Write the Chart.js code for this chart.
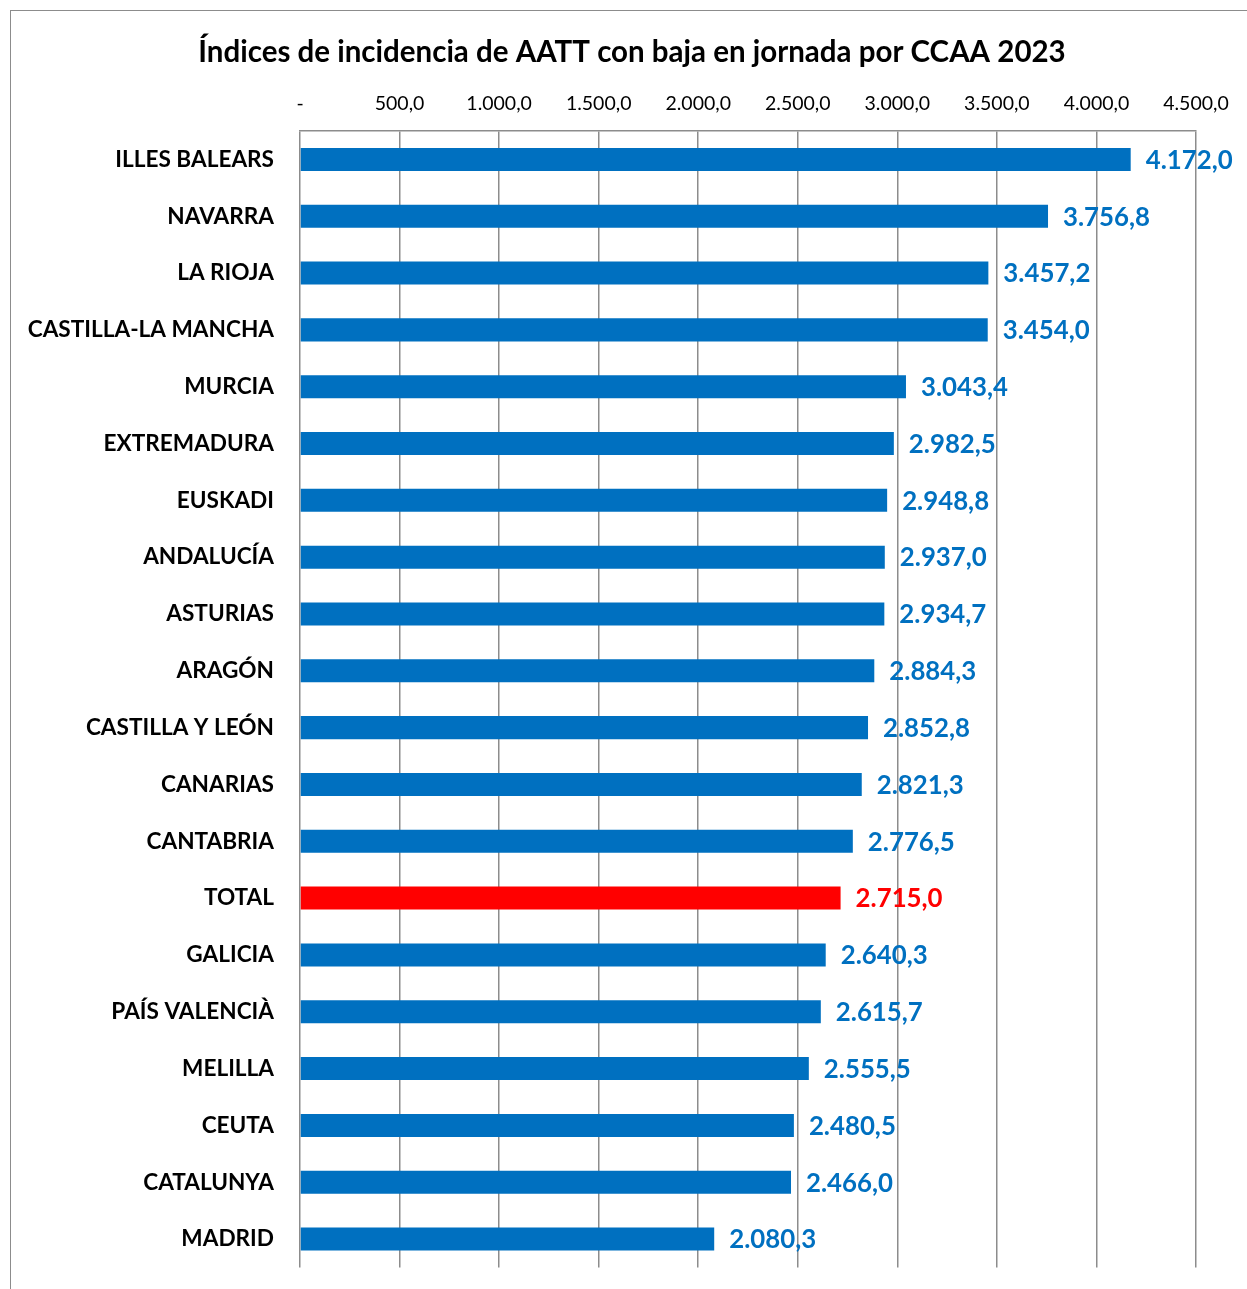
<!DOCTYPE html>
<html>
<head>
<meta charset="utf-8">
<script src="https://cdn.jsdelivr.net/npm/chart.js@4.4.1/dist/chart.umd.min.js"></script>
<style>
html,body{margin:0;padding:0;background:#fff;overflow:hidden;}
#wrap{position:relative;width:1247px;height:1289px;overflow:hidden;}
#frame{position:absolute;left:10px;top:10px;width:1300px;height:1400px;border-left:1.5px solid #8c8c8c;border-top:1.5px solid #8c8c8c;pointer-events:none;}
canvas{position:absolute;left:0;top:0;}
</style>
</head>
<body>
<div id="wrap"><canvas id="c" width="1247" height="1307"></canvas><div id="frame"></div></div>
<script>
const categories = ["ILLES BALEARS","NAVARRA","LA RIOJA","CASTILLA-LA MANCHA","MURCIA","EXTREMADURA","EUSKADI","ANDALUCÍA","ASTURIAS","ARAGÓN","CASTILLA Y LEÓN","CANARIAS","CANTABRIA","TOTAL","GALICIA","PAÍS VALENCIÀ","MELILLA","CEUTA","CATALUNYA","MADRID"];
const values = [4172.0,3756.8,3457.2,3454.0,3043.4,2982.5,2948.8,2937.0,2934.7,2884.3,2852.8,2821.3,2776.5,2715.0,2640.3,2615.7,2555.5,2480.5,2466.0,2080.3];
const highlightCategory = "TOTAL";
const axisMax = 4500;
const axisStep = 500;
const titleText = "Índices de incidencia de AATT con baja en jornada por CCAA 2023";

const BLUE = "#0070C0", RED = "#FF0000";
const FONT = "Lato";

function fmt(v){
  if (v === 0) return "-";
  const neg = v < 0;
  const s = Math.abs(v).toFixed(1);
  let [ip, dp] = s.split(".");
  ip = ip.replace(/\B(?=(\d{3})+(?!\d))/g, ".");
  return (neg?"-":"") + ip + "," + dp;
}

const colors = categories.map(c => c === highlightCategory ? RED : BLUE);

const titlePlugin = {
  id: "titleDraw",
  beforeDraw(chart){
    const ctx = chart.ctx;
    ctx.save();
    ctx.fillStyle = "#fff";
    ctx.fillRect(0,0,chart.width,chart.height);
    ctx.fillStyle = "#000";
    ctx.font = "bold 29.5px " + FONT;
    ctx.textAlign = "center";
    ctx.textBaseline = "middle";
    ctx.fillText(titleText, 632, 52);
    ctx.restore();
  }
};

const valueLabels = {
  id: "valueLabels",
  afterDatasetsDraw(chart){
    const ctx = chart.ctx;
    const meta = chart.getDatasetMeta(0);
    ctx.save();
    ctx.font = "bold 25.8px " + FONT;
    ctx.textAlign = "left";
    ctx.textBaseline = "middle";
    meta.data.forEach((bar, i) => {
      ctx.fillStyle = colors[i];
      ctx.fillText(fmt(values[i]), bar.x + 15, bar.y + 1);
    });
    ctx.restore();
  }
};

new Chart(document.getElementById("c"), {
  type: "bar",
  data: {
    labels: categories,
    datasets: [{
      data: values,
      backgroundColor: colors,
      borderWidth: 0,
      barPercentage: 0.405,
      categoryPercentage: 1.0
    }]
  },
  options: {
    indexAxis: "y",
    responsive: false,
    animation: false,
    layout: { padding: { top: 77, bottom: 5, right: 51, left: 0 } },
    plugins: {
      legend: { display: false },
      title: { display: false },
      tooltip: { enabled: false }
    },
    scales: {
      x: {
        position: "top",
        min: 0,
        max: axisMax,
        afterFit(s){ s.height = 54; },
        ticks: {
          stepSize: axisStep,
          padding: 16,
          color: "#000",
          font: { family: FONT, size: 19.5 },
          maxRotation: 0,
          callback: v => fmt(v)
        },
        grid: { color: "#8c8c8c", lineWidth: 1.5, drawTicks: false },
        border: { display: true, color: "#8c8c8c", width: 1.5 }
      },
      y: {
        afterFit(s){ s.width = 300; },
        ticks: {
          padding: 26,
          color: "#000",
          font: { family: FONT, size: 22.6, weight: "bold" }
        },
        grid: { display: false, drawTicks: false },
        border: { display: false }
      }
    }
  },
  plugins: [titlePlugin, valueLabels]
});
</script>
</body>
</html>
